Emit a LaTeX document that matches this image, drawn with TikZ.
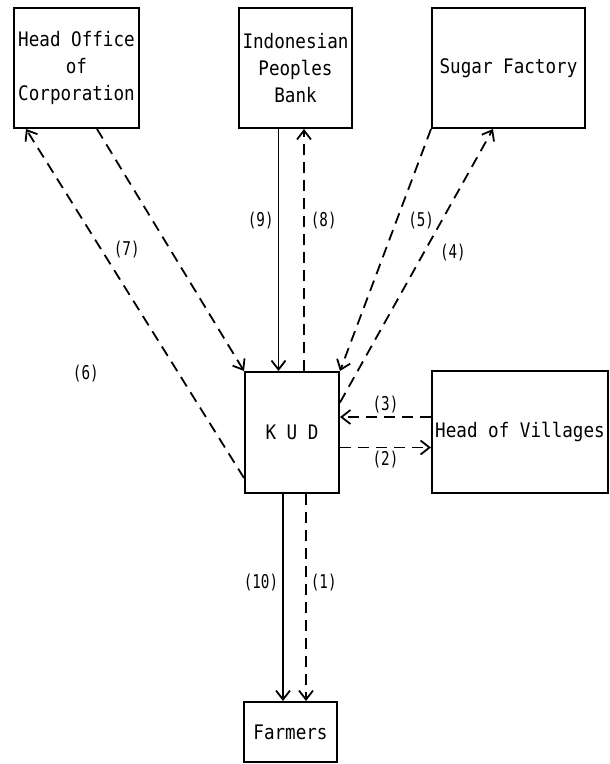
\documentclass[tikz,border=0pt]{standalone}
\usepackage{fontspec}
\usetikzlibrary{arrows.meta,positioning}
\newfontfamily\dotfont[FakeStretch=0.88]{DejaVu Sans Mono}
\newfontfamily\numfont[FakeStretch=0.75]{DejaVu Sans Mono}

\begin{document}
\begin{tikzpicture}[
  x=1pt,y=-1pt,
  font=\dotfont\fontsize{20}{27}\selectfont,
  box/.style={draw,line width=2pt,align=center,inner sep=2pt},
  lbl/.style={font=\numfont\fontsize{19}{21}\selectfont,inner sep=1pt},
  ar/.style={-{Straight Barb[length=9pt,width=14pt,line width=1.8pt]},line width=1.8pt},
  dar/.style={ar,dash pattern=on 11pt off 7pt}]

\useasboundingbox (0,0) rectangle (610,764);

\node[box,minimum width=125pt,minimum height=120pt] (hoc) at (76.5,68) {Head Office\\of\\Corporation};
\node[box,minimum width=113pt,minimum height=120pt] (bank) at (295.5,68) {Indonesian\\Peoples\\Bank};
\node[box,minimum width=153pt,minimum height=120pt] (sugar) at (508.5,68) {Sugar Factory};
\node[box,minimum width=94pt,minimum height=121pt] (kud) at (292,432.5) {K U D};
\node[box,minimum width=176pt,minimum height=122pt] (vil) at (520,432) {Head of Villages};
\node[box,minimum width=93pt,minimum height=60pt] (farm) at (290.5,732) {Farmers};

% bank
\draw[ar] ([xshift=-17pt]bank.south) -- ([xshift=-17pt]bank.south |- kud.north)
  node[lbl,pos=0.38,left=3pt] (l9) {(9)};
\draw[dar] ([xshift=12pt]kud.north) -- ([xshift=12pt]kud.north |- bank.south)
  node[lbl,pos=0.62,right=5pt] (l8) {(8)};
% head office
\draw[dar] ([xshift=20.5pt]hoc.south) -- (kud.north west)
  node[lbl,pos=0.5,left=29pt] (l7) {(7)};
\draw[dar] ([yshift=16pt]kud.south west) -- ([xshift=13pt]hoc.south west)
  node[lbl,pos=0.3,left=78pt] (l6) {(6)};
% sugar factory
\draw[dar] (sugar.south west) -- (kud.north east)
  node[lbl,pos=0.38,right=10pt] (l5) {(5)};
\draw[dar] ([yshift=30pt]kud.east) -- ([xshift=-15.5pt]sugar.south)
  node[lbl,pos=0.55,right=14pt] (l4) {(4)};
% villages
\draw[dar] ([yshift=15pt]vil.west) -- ([yshift=15pt]vil.west -| kud.east)
  node[lbl,pos=0.5,above=2pt] (l3) {(3)};
\draw[dar] ([yshift=-15pt]kud.east) -- ([yshift=-15pt]kud.east -| vil.west)
  node[lbl,pos=0.5,below=2pt] (l2) {(2)};
% farmers
\draw[ar] ([xshift=-9pt]kud.south) -- ([xshift=-9pt]kud.south |- farm.north)
  node[lbl,pos=0.43,left=3pt] (l10) {(10)};
\draw[dar] ([xshift=14pt]kud.south) -- ([xshift=14pt]kud.south |- farm.north)
  node[lbl,pos=0.43,right=3pt] (l1) {(1)};
\end{tikzpicture}
\end{document}
